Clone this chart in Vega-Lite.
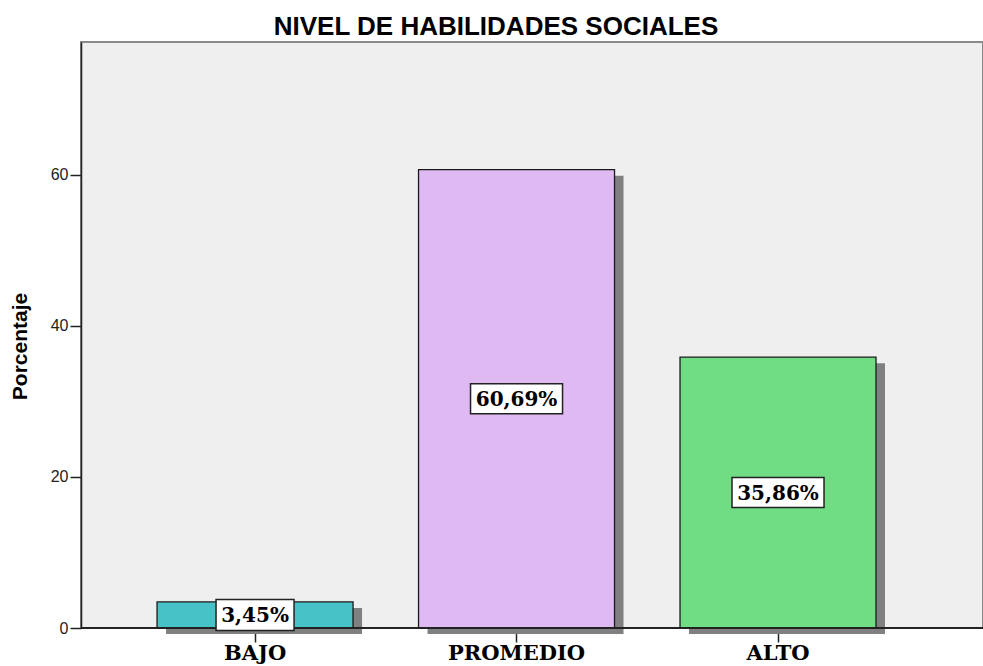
{
  "$schema": "https://vega.github.io/schema/vega-lite/v6.json",
  "width": 902,
  "height": 586,
  "padding": {"left": 81, "top": 42, "right": 0, "bottom": 38},
  "autosize": {"type": "none"},
  "background": "white",
  "title": {
    "text": "NIVEL DE HABILIDADES SOCIALES",
    "font": "Liberation Sans",
    "fontSize": 26,
    "fontWeight": "bold",
    "color": "#000000",
    "anchor": "middle",
    "offset": 2,
    "dx": -36
  },
  "data": {
    "values": [
      {"nivel": "BAJO", "pct": 3.45, "label": "3,45%"},
      {"nivel": "PROMEDIO", "pct": 60.69, "label": "60,69%"},
      {"nivel": "ALTO", "pct": 35.86, "label": "35,86%"}
    ]
  },
  "transform": [{"calculate": "datum.pct / 2", "as": "mid"}],
  "encoding": {
    "x": {
      "field": "nivel",
      "type": "nominal",
      "sort": ["BAJO", "PROMEDIO", "ALTO"],
      "scale": {"paddingInner": 0.2505, "paddingOuter": 0.35, "align": 0.4155},
      "axis": {
        "title": null,
        "domain": false,
        "labelAngle": 0,
        "labelFont": "DejaVu Serif",
        "labelFontWeight": "bold",
        "labelFontSize": 21,
        "labelColor": "#000000",
        "labelPadding": 0,
        "tickSize": 14,
        "tickColor": "#222222",
        "tickWidth": 1.5
      }
    }
  },
  "layer": [
    {
      "mark": {"type": "bar", "color": "#808080", "xOffset": 9, "x2Offset": 9, "yOffset": 6, "y2Offset": 8},
      "encoding": {
        "y": {
          "field": "pct",
          "type": "quantitative",
          "scale": {"domain": [0, 77.6], "nice": false, "zero": true},
          "axis": {
            "values": [0, 20, 40, 60],
            "grid": false,
            "domainColor": "#222222",
            "domainWidth": 1.5,
            "tickColor": "#222222",
            "tickWidth": 1.5,
            "tickSize": 11,
            "labelFont": "Liberation Sans",
            "labelFontSize": 16,
            "labelColor": "#222222",
            "labelPadding": 2,
            "title": "Porcentaje",
            "titleFont": "Liberation Sans",
            "titleFontSize": 21,
            "titleFontWeight": "bold",
            "titleColor": "#000000",
            "titleAngle": -90,
            "titleAlign": "center",
            "titleBaseline": "middle",
            "titleX": -61,
            "titleY": 304
          }
        }
      }
    },
    {
      "mark": {"type": "bar", "stroke": "#1a1a1a", "strokeWidth": 1.3},
      "encoding": {
        "y": {"field": "pct", "type": "quantitative"},
        "fill": {
          "field": "nivel",
          "type": "nominal",
          "scale": {"domain": ["BAJO", "PROMEDIO", "ALTO"], "range": ["#47C3C7", "#DFB9F2", "#70DD85"]},
          "legend": null
        }
      }
    },
    {
      "mark": {"type": "rule", "color": "#222222", "strokeWidth": 1.5},
      "encoding": {"y": {"datum": 0, "type": "quantitative"}, "x": {"value": 0}, "x2": {"value": 902}}
    },
    {
      "mark": {"type": "point", "filled": false, "fill": "#ffffff", "fillOpacity": 1, "opacity": 1, "stroke": "#222222", "strokeWidth": 1.5, "size": 4},
      "encoding": {
        "y": {"field": "mid", "type": "quantitative"},
        "shape": {
          "condition": {"test": "datum.nivel === 'BAJO'", "value": "M-39,-15.5H39V15.5H-39Z"},
          "value": "M-46,-15H46V15H-46Z"
        }
      }
    },
    {
      "mark": {"type": "text", "font": "DejaVu Serif", "fontWeight": "bold", "fontSize": 20, "color": "#000000", "baseline": "middle", "align": "center", "dy": 1},
      "encoding": {
        "y": {"field": "mid", "type": "quantitative"},
        "text": {"field": "label"}
      }
    }
  ],
  "config": {
    "view": {"fill": "#EFEFEF", "stroke": "#8a8a8a", "strokeWidth": 2}
  }
}
